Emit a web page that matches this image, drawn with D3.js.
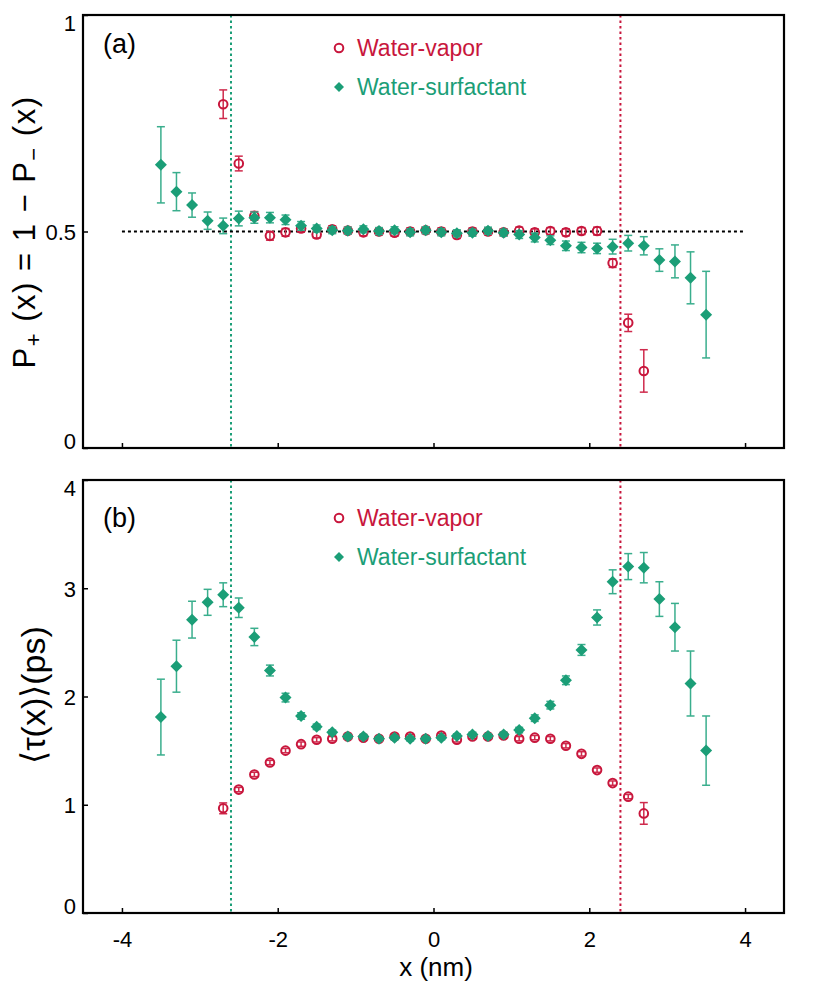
<!DOCTYPE html>
<html>
<head>
<meta charset="utf-8">
<script src="https://cdn.jsdelivr.net/npm/d3@7"></script>
<style>
  html, body { margin: 0; padding: 0; background: #fff; }
  svg { display: block; }
  text { font-family: "Liberation Sans", Arial, Helvetica, sans-serif; }
</style>
</head>
<body>
<svg id="chart" width="830" height="992"></svg>
<script>
// ---------- data ----------
const xGreen = [-3.5,-3.3,-3.1,-2.9,-2.7,-2.5,-2.3,-2.1,-1.9,-1.7,-1.5,-1.3,-1.1,-0.9,-0.7,-0.5,-0.3,-0.1,
                 0.1,0.3,0.5,0.7,0.9,1.1,1.3,1.5,1.7,1.9,2.1,2.3,2.5,2.7,2.9,3.1,3.3,3.5];
const xRed = [-2.7,-2.5,-2.3,-2.1,-1.9,-1.7,-1.5,-1.3,-1.1,-0.9,-0.7,-0.5,-0.3,-0.1,
               0.1,0.3,0.5,0.7,0.9,1.1,1.3,1.5,1.7,1.9,2.1,2.3,2.5,2.7];

// Panel (a): P+(x)
const pGreen = [0.654,0.592,0.561,0.525,0.513,0.530,0.532,0.532,0.527,0.513,0.507,0.503,0.502,0.505,0.501,0.503,0.498,0.503,
                0.498,0.496,0.497,0.502,0.497,0.493,0.486,0.480,0.467,0.463,0.461,0.465,0.473,0.467,0.434,0.431,0.393,0.308];
const pGreenErr = [0.088,0.044,0.028,0.020,0.018,0.017,0.013,0.012,0.011,0.010,0.008,0.008,0.008,0.008,0.008,0.008,0.008,0.008,
                   0.008,0.008,0.008,0.008,0.008,0.009,0.010,0.010,0.011,0.012,0.012,0.017,0.018,0.021,0.026,0.038,0.060,0.100];
const pRed = [0.794,0.657,0.536,0.490,0.498,0.507,0.493,0.505,0.502,0.498,0.500,0.497,0.500,0.503,
              0.500,0.492,0.500,0.500,0.498,0.502,0.498,0.501,0.498,0.501,0.501,0.427,0.289,0.178];
const pRedErr = [0.033,0.017,0.010,0.010,0.009,0.008,0.008,0.008,0.008,0.008,0.008,0.008,0.008,0.008,
                 0.008,0.008,0.008,0.008,0.008,0.008,0.008,0.008,0.008,0.008,0.009,0.010,0.020,0.049];

// Panel (b): <tau(x)> (ps)
const tGreen = [1.81,2.28,2.71,2.87,2.94,2.82,2.55,2.24,1.99,1.82,1.72,1.67,1.63,1.63,1.61,1.62,1.61,1.61,
                1.62,1.635,1.65,1.635,1.65,1.69,1.80,1.92,2.15,2.43,2.73,3.06,3.20,3.19,2.90,2.64,2.12,1.50];
const tGreenErr = [0.35,0.24,0.17,0.12,0.11,0.09,0.08,0.05,0.04,0.03,0.025,0.02,0.02,0.02,0.02,0.02,0.02,0.02,
                   0.02,0.02,0.02,0.02,0.02,0.025,0.03,0.035,0.04,0.05,0.07,0.11,0.12,0.14,0.16,0.22,0.30,0.32];
const tRed = [0.967,1.14,1.28,1.39,1.50,1.56,1.60,1.61,1.63,1.62,1.61,1.63,1.63,1.61,
              1.64,1.60,1.63,1.63,1.64,1.61,1.62,1.61,1.545,1.47,1.32,1.20,1.075,0.92];
const tRedErr = [0.05,0.02,0.02,0.02,0.02,0.02,0.02,0.02,0.02,0.02,0.02,0.02,0.02,0.02,
                 0.02,0.02,0.02,0.02,0.02,0.02,0.02,0.02,0.02,0.02,0.02,0.02,0.02,0.10];

const xTicks = [-4,-2,0,2,4];
const yTicksA = [0,0.5,1];
const yTicksB = [0,1,2,3,4];
const seriesNames = ["Water-vapor","Water-surfactant"];
const interfaceX = { green: -2.6, red: 2.4 };
const refLine = { y: 0.5, x0: -4, x1: 4 };

// ---------- styles ----------
const RED = "#c8163c", RED_ERR = "#cf2a4c";
const GREEN = "#1b9e77", GREEN_ERR = "#3aae8d";

const svg = d3.select("#chart");
const L = 83, R = 784;
const x = d3.scaleLinear().domain([-4.5, 4.5]).range([L, R]);

const panels = [
  { id: "a", top: 15, bottom: 448, domain: [0,1], yTicks: yTicksA, fmt: d => d === 0.5 ? "0.5" : d3.format("d")(d),
    green: pGreen, greenErr: pGreenErr, red: pRed, redErr: pRedErr, xLabels: false, refLine: true,
    legendY: [48, 87], labelBase: 53 },
  { id: "b", top: 480, bottom: 913, domain: [0,4], yTicks: yTicksB, fmt: d3.format("d"),
    green: tGreen, greenErr: tGreenErr, red: tRed, redErr: tRedErr, xLabels: true, refLine: false,
    legendY: [518, 557], labelBase: 527 }
];

panels.forEach(p => {
  const y = d3.scaleLinear().domain(p.domain).range([p.bottom, p.top]);
  const g = svg.append("g");

  // vertical dotted interface lines
  [["green", GREEN], ["red", RED]].forEach(([k, c]) => {
    g.append("line")
      .attr("x1", x(interfaceX[k])).attr("x2", x(interfaceX[k]))
      .attr("y1", p.top).attr("y2", p.bottom)
      .attr("stroke", c).attr("stroke-width", 2).attr("stroke-dasharray", "2.5,3");
  });

  if (p.refLine) {
    g.append("line")
      .attr("x1", x(refLine.x0)).attr("x2", x(refLine.x1))
      .attr("y1", y(refLine.y)).attr("y2", y(refLine.y))
      .attr("stroke", "#000").attr("stroke-width", 2).attr("stroke-dasharray", "3,3");
  }

  const drawErr = (xs, vs, es, color) => {
    const eg = g.append("g").attr("stroke", color).attr("stroke-width", 1.5).attr("fill", "none");
    xs.forEach((xv, i) => {
      const cx = x(xv), y1 = y(vs[i] - es[i]), y2 = y(vs[i] + es[i]);
      eg.append("line").attr("x1", cx).attr("x2", cx).attr("y1", y1).attr("y2", y2);
      eg.append("line").attr("x1", cx - 4).attr("x2", cx + 4).attr("y1", y1).attr("y2", y1);
      eg.append("line").attr("x1", cx - 4).attr("x2", cx + 4).attr("y1", y2).attr("y2", y2);
    });
  };

  // red series (open circles)
  drawErr(xRed, p.red, p.redErr, RED_ERR);
  g.append("g").selectAll("circle").data(xRed).join("circle")
    .attr("cx", d => x(d)).attr("cy", (d, i) => y(p.red[i])).attr("r", 4.3)
    .attr("fill", "none").attr("stroke", RED).attr("stroke-width", 2);

  // green series (filled diamonds)
  drawErr(xGreen, p.green, p.greenErr, GREEN_ERR);
  const diamond = d3.symbol().type(d3.symbolSquare).size(72);
  g.append("g").selectAll("path").data(xGreen).join("path")
    .attr("d", diamond)
    .attr("transform", (d, i) => `translate(${x(d)},${y(p.green[i])}) rotate(45)`)
    .attr("fill", GREEN);

  // frame
  g.append("rect").attr("x", L).attr("y", p.top).attr("width", R - L).attr("height", p.bottom - p.top)
    .attr("fill", "none").attr("stroke", "#000").attr("stroke-width", 2.2);

  // x axis ticks (inward)
  const xa = g.append("g").attr("transform", `translate(0,${p.bottom})`)
    .call(d3.axisBottom(x).tickValues(xTicks).tickSize(-5).tickPadding(18)
      .tickFormat(p.xLabels ? d3.format("d") : () => ""));
  xa.select(".domain").remove();
  xa.selectAll(".tick line").attr("stroke", "#000").attr("stroke-width", 1.5);
  xa.selectAll(".tick text").attr("font-size", 22).attr("fill", "#000")
    .attr("font-family", "'Liberation Sans', Arial, sans-serif")
    .text(function(d) { return p.xLabels ? (d < 0 ? "-" + Math.abs(d) : String(d)) : ""; });

  // y axis ticks (inward)
  const ya = g.append("g").attr("transform", `translate(${L},0)`)
    .call(d3.axisLeft(y).tickValues(p.yTicks).tickSize(-5).tickPadding(7).tickFormat(p.fmt));
  ya.select(".domain").remove();
  ya.selectAll(".tick line").attr("stroke", "#000").attr("stroke-width", 1.5);
  ya.selectAll(".tick text").attr("font-size", 22).attr("fill", "#000")
    .attr("font-family", "'Liberation Sans', Arial, sans-serif")
    .attr("dy", d => d === p.domain[1] ? "0.72em" : (d === p.domain[0] ? "0em" : "0.36em"));

  // legend
  const lx = 339;
  g.append("circle").attr("cx", lx).attr("cy", p.legendY[0]).attr("r", 4.3)
    .attr("fill", "none").attr("stroke", RED).attr("stroke-width", 2);
  g.append("text").attr("x", 357).attr("y", p.legendY[0] + 8).attr("font-size", 23)
    .attr("fill", RED).text(seriesNames[0]);
  g.append("path").attr("d", d3.symbol().type(d3.symbolSquare).size(50))
    .attr("transform", `translate(${lx},${p.legendY[1]}) rotate(45)`).attr("fill", GREEN);
  g.append("text").attr("x", 357).attr("y", p.legendY[1] + 8).attr("font-size", 23)
    .attr("fill", GREEN).text(seriesNames[1]);

  // panel label
  g.append("text").attr("x", 103).attr("y", p.labelBase).attr("font-size", 27)
    .attr("fill", "#000").text(`(${p.id})`);
});

// axis titles
svg.append("text").attr("x", 436).attr("y", 976).attr("text-anchor", "middle")
  .attr("font-size", 26).attr("fill", "#000").text("x (nm)");

const ta = svg.append("text").attr("transform", "translate(35,232) rotate(-90)")
  .attr("text-anchor", "middle").attr("font-size", 31).attr("letter-spacing", 1.5).attr("fill", "#000");
ta.append("tspan").text("P");
ta.append("tspan").attr("baseline-shift", "-25%").attr("font-size", 22).text("+");
ta.append("tspan").text(" (x) = 1 \u2212 P");
ta.append("tspan").attr("baseline-shift", "-25%").attr("font-size", 22).text("\u2212");
ta.append("tspan").text(" (x)");

svg.append("text").attr("transform", "translate(45,695) rotate(-90)")
  .attr("text-anchor", "middle").attr("font-size", 34).attr("fill", "#000")
  .text("\u27E8\u03C4(x)\u27E9(ps)");
</script>
</body>
</html>
